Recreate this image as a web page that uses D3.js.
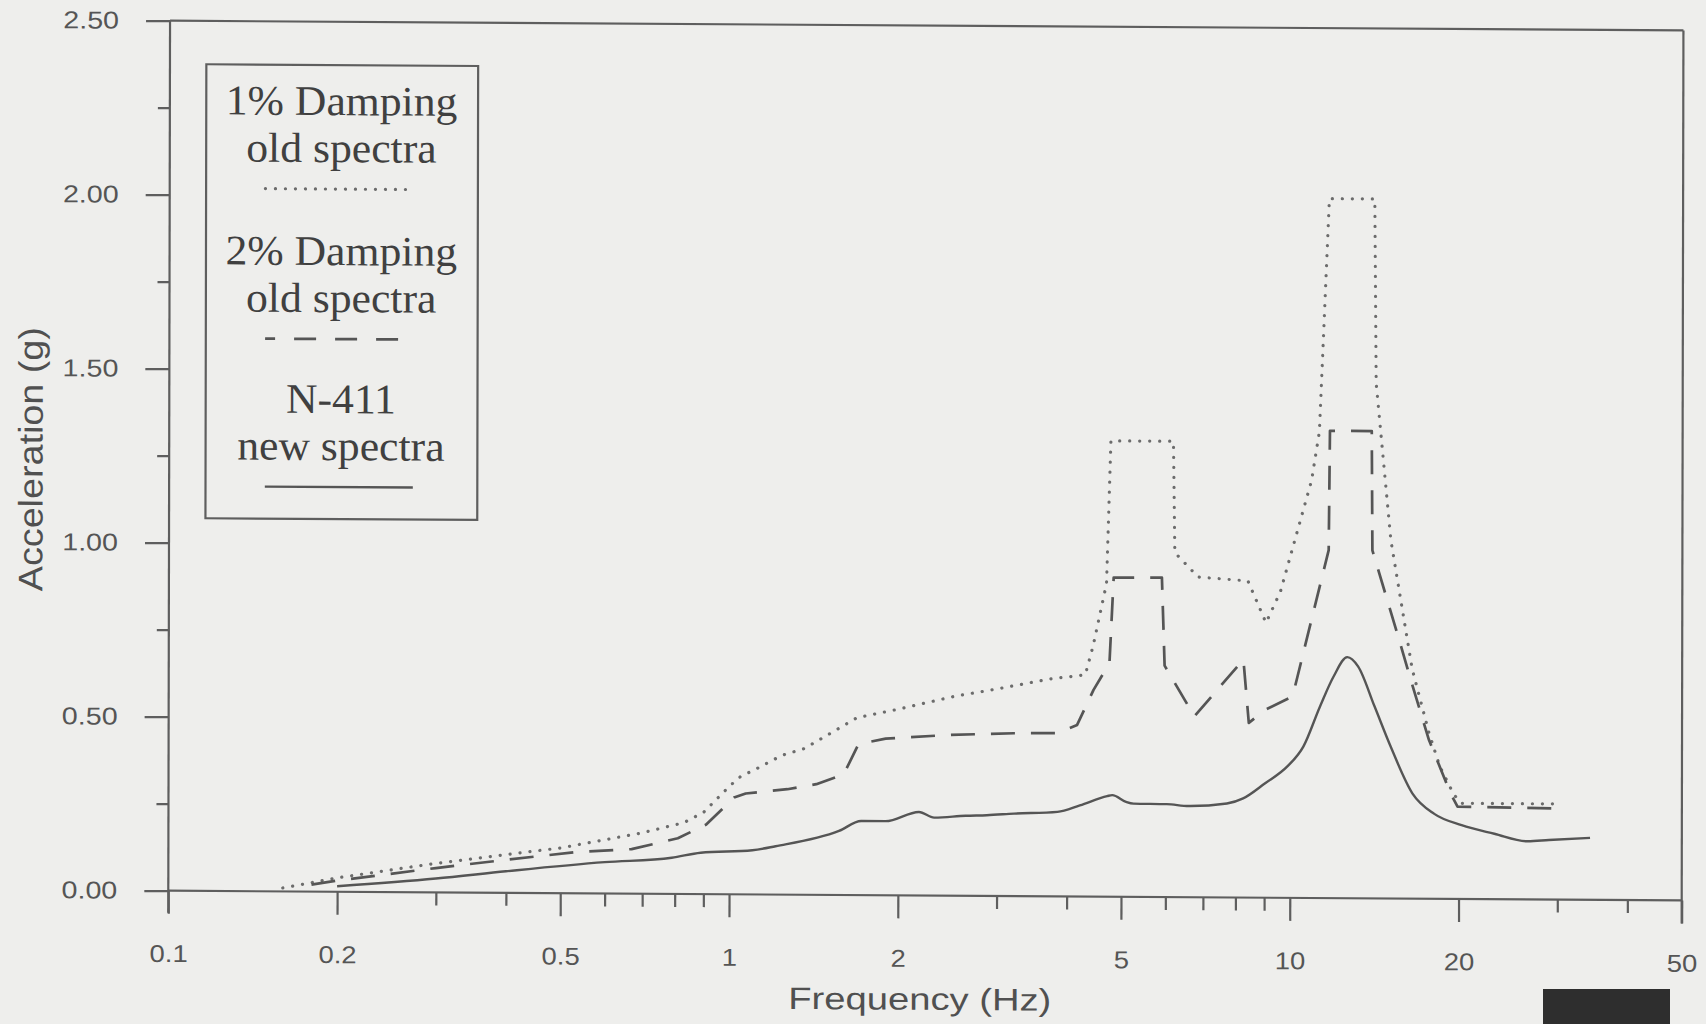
<!DOCTYPE html>
<html>
<head>
<meta charset="utf-8">
<script src="https://cdn.jsdelivr.net/npm/d3@7"></script>
<style>
  body { margin: 0; background: #eeeeec; }
  svg { display: block; }
</style>
</head>
<body>
<svg id="chart" width="1706" height="1024"></svg>
<script>
// 1% damping, old spectra (dotted)
const freqOld1 = [0.16, 0.2, 0.29, 0.4, 0.5, 0.7, 0.83, 0.9, 1.0, 1.05, 1.1, 1.24, 1.36, 1.69, 2.0, 2.52, 3.0, 3.74, 4.31, 4.45, 4.7, 4.78, 6.18, 6.22, 6.85, 8.4, 9.05, 9.6, 10.9, 11.25, 11.7, 14.1, 14.2, 15.1, 16.5, 17.7, 18.5, 19.6, 20.2, 30.5];
const accOld1  = [0.01, 0.04, 0.08, 0.11, 0.13, 0.175, 0.205, 0.235, 0.31, 0.34, 0.355, 0.40, 0.42, 0.51, 0.535, 0.573, 0.595, 0.625, 0.637, 0.72, 0.9, 1.31, 1.31, 0.99, 0.92, 0.91, 0.79, 0.88, 1.2, 1.34, 2.01, 2.01, 1.48, 1.03, 0.66, 0.475, 0.38, 0.3, 0.275, 0.275];

// 2% damping, old spectra (dashed)
const freqOld2 = [0.18, 0.2, 0.3, 0.4, 0.53, 0.67, 0.81, 0.91, 1.02, 1.07, 1.27, 1.43, 1.6, 1.7, 1.9, 2.46, 3.22, 3.85, 4.17, 4.46, 4.76, 4.84, 5.9, 5.97, 6.75, 8.25, 8.44, 9.03, 10.1, 11.7, 11.75, 13.95, 14.0, 15.5, 16.54, 17.69, 19.35, 19.9, 30.3];
const accOld2  = [0.02, 0.032, 0.07, 0.095, 0.118, 0.128, 0.16, 0.2, 0.278, 0.29, 0.303, 0.318, 0.347, 0.434, 0.45, 0.462, 0.468, 0.469, 0.493, 0.594, 0.671, 0.917, 0.918, 0.665, 0.52, 0.684, 0.502, 0.54, 0.579, 1.0, 1.343, 1.343, 1.0, 0.764, 0.61, 0.456, 0.302, 0.265, 0.262];

// N-411 new spectra (solid)
const freqNew = [0.2, 0.3, 0.4, 0.6, 0.79, 0.89, 1.1, 1.21, 1.57, 1.72, 1.9, 2.18, 2.32, 2.64, 2.88, 3.22, 3.85, 4.22, 4.72, 4.82, 5.1, 5.26, 6.03, 6.6, 7.72, 8.25, 9.03, 9.88, 10.56, 11.3, 11.95, 12.64, 13.22, 14.14, 15.12, 16.54, 18.09, 20.24, 23.15, 26.5, 28.97, 34.3];
const accNew  = [0.016, 0.04, 0.062, 0.09, 0.104, 0.119, 0.127, 0.139, 0.184, 0.213, 0.213, 0.24, 0.224, 0.23, 0.232, 0.237, 0.243, 0.262, 0.289, 0.292, 0.273, 0.268, 0.267, 0.262, 0.27, 0.285, 0.329, 0.377, 0.435, 0.55, 0.637, 0.693, 0.666, 0.552, 0.436, 0.302, 0.244, 0.212, 0.188, 0.167, 0.171, 0.178];

const xMajor = [0.1, 0.2, 0.5, 1, 2, 5, 10, 20, 50];
const xMinor = [0.3, 0.4, 0.6, 0.7, 0.8, 0.9, 3, 4, 6, 7, 8, 9, 30, 40];
const yMajor = [0, 0.5, 1, 1.5, 2, 2.5];
const yMinor = [0.25, 0.75, 1.25, 1.75, 2.25];

const legendLabels = [["1% Damping", "old spectra"], ["2% Damping", "old spectra"], ["N-411", "new spectra"]];

const svg = d3.select("#chart");
svg.append("rect").attr("width", 1706).attr("height", 1024).attr("fill", "#eeeeec");

const x = d3.scaleLog().domain([0.1, 50]).range([168.3, 1681.7]);
const y = d3.scaleLinear().domain([0, 2.5]).range([890.7, 20.7]);

// the scanned page is slightly skewed
const ox = x(0.1), oy = y(0);
const g = svg.append("g")
  .attr("transform", `matrix(1,0.0064,-0.002,1,${0.002 * oy},${-0.0064 * ox})`);

const axisColor = "#5e5e5e";

// stretch text horizontally (the original type is wide)
function stretch(sel, k) {
  sel.each(function() {
    const w = this.getComputedTextLength();
    d3.select(this).attr("textLength", w * k).attr("lengthAdjust", "spacingAndGlyphs");
  });
}

// y axis
const yMin = g.append("g").attr("transform", `translate(${ox},0)`)
  .call(d3.axisLeft(y).tickValues(yMinor).tickSize(12).tickSizeOuter(0).tickFormat(""));
const yMaj = g.append("g").attr("transform", `translate(${ox},0)`)
  .call(d3.axisLeft(y).tickValues(yMajor).tickSize(24).tickSizeOuter(0).tickPadding(27).tickFormat(d3.format(".2f")));

// x axis
const xMin = g.append("g").attr("transform", `translate(0,${oy})`)
  .call(d3.axisBottom(x).tickValues(xMinor).tickSize(13).tickSizeOuter(0).tickFormat(""));
const xMaj = g.append("g").attr("transform", `translate(0,${oy})`)
  .call(d3.axisBottom(x).tickValues(xMajor).tickSize(23).tickSizeOuter(0).tickFormat(d3.format("")));

[yMin, yMaj, xMin, xMaj].forEach(a => {
  a.select(".domain").remove();
  a.selectAll("line").attr("stroke", axisColor).attr("stroke-width", 2.2);
  a.selectAll("text")
    .attr("fill", "#555")
    .style("font-family", "'Liberation Sans', Arial, Helvetica, sans-serif")
    .style("font-size", "24.5px");
});
xMaj.selectAll("text").attr("y", 54).attr("dy", "0.71em");
stretch(yMaj.selectAll("text"), 1.17);
stretch(xMaj.selectAll("text"), 1.12);

// frame
const frame = g.append("g").attr("stroke", axisColor).attr("stroke-width", 2.2);
frame.append("line").attr("x1", ox).attr("x2", ox).attr("y1", y(2.5)).attr("y2", oy + 22);
frame.append("line").attr("x1", x(50)).attr("x2", x(50)).attr("y1", y(2.5)).attr("y2", oy + 23);
frame.append("line").attr("x1", ox).attr("x2", x(50)).attr("y1", oy).attr("y2", oy);
frame.append("line").attr("x1", ox).attr("x2", x(50)).attr("y1", y(2.5)).attr("y2", y(2.5));

// series
const series = [
  { f: freqOld1, v: accOld1, color: "#6c6c6c", width: 3.2, dash: "0.1,9.9", cap: "round", curve: d3.curveLinear },
  { f: freqOld2, v: accOld2, color: "#555", width: 2.7, dash: "24,16", cap: "butt", curve: d3.curveLinear },
  { f: freqNew, v: accNew, color: "#555", width: 2.4, dash: null, cap: "butt", curve: d3.curveMonotoneX }
];

series.forEach(s => {
  const line = d3.line().x(d => x(d[0])).y(d => y(d[1])).curve(s.curve);
  g.append("path")
    .datum(s.f.map((f, i) => [f, s.v[i]]))
    .attr("d", line)
    .attr("fill", "none")
    .attr("stroke", s.color)
    .attr("stroke-width", s.width)
    .attr("stroke-dasharray", s.dash)
    .attr("stroke-linecap", s.cap)
    .attr("stroke-linejoin", "round");
});

// legend
const legend = g.append("g");
legend.append("rect")
  .attr("x", 204.7).attr("y", 64).attr("width", 271.8).attr("height", 454)
  .attr("fill", "none").attr("stroke", axisColor).attr("stroke-width", 2.2);

const legendTop = [114, 264, 412];
const legendDash = ["0.1,9.9", "22,19", null];
legendLabels.forEach((lab, i) => {
  const t = legend.append("g").attr("transform", `translate(340,${legendTop[i]})`);
  lab.forEach((txt, j) => {
    t.append("text")
      .attr("y", j * 47)
      .attr("text-anchor", "middle")
      .attr("fill", "#404040")
      .style("font-family", "'Liberation Serif', 'Times New Roman', serif")
      .style("font-size", "42px")
      .text(txt);
  });
  stretch(t.selectAll("text"), 1.04);
  t.append("line")
    .attr("x1", -76).attr("x2", 72).attr("y1", 74).attr("y2", 74)
    .attr("stroke", series[i].color)
    .attr("stroke-width", series[i].width)
    .attr("stroke-dasharray", legendDash[i])
    .attr("stroke-dashoffset", i === 1 ? 12 : 0)
    .attr("stroke-linecap", series[i].cap);
});

// axis titles
const xt = g.append("text")
  .attr("x", 920).attr("y", 1005)
  .attr("text-anchor", "middle")
  .attr("fill", "#505050")
  .style("font-family", "'Liberation Sans', Arial, Helvetica, sans-serif")
  .style("font-size", "31px")
  .text("Frequency (Hz)");
xt.attr("textLength", 263).attr("lengthAdjust", "spacingAndGlyphs");

const yt = g.append("text")
  .attr("transform", "translate(41.7,460) rotate(-90)")
  .attr("text-anchor", "middle")
  .attr("fill", "#505050")
  .style("font-family", "'Liberation Sans', Arial, Helvetica, sans-serif")
  .style("font-size", "34px")
  .text("Acceleration (g)");
yt.attr("textLength", 264).attr("lengthAdjust", "spacingAndGlyphs");

// dark block at the bottom of the scanned page
svg.append("rect")
  .attr("x", 1543).attr("y", 989).attr("width", 127).attr("height", 35)
  .attr("fill", "#2e2e2e");
</script>
</body>
</html>
